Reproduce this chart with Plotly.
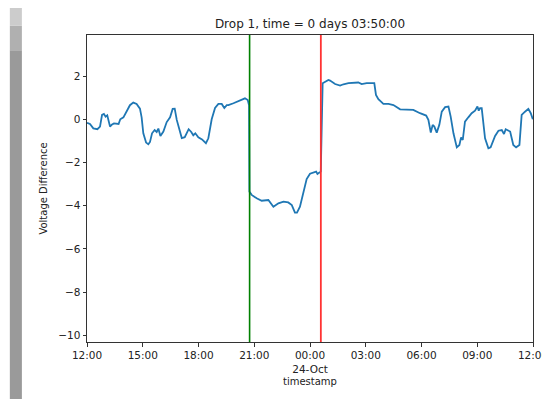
import pandas as pd
import plotly.graph_objects as go

# hours after 2023-10-23 12:00
hours = [0.0, 0.16, 0.34, 0.56, 0.70, 0.81, 0.91, 1.0, 1.09, 1.24, 1.33, 1.45, 1.70, 1.79, 1.96,
         2.13, 2.31, 2.49, 2.67, 2.85, 2.94, 3.03, 3.18, 3.30, 3.39, 3.50, 3.64, 3.75, 3.84, 3.95,
         4.11, 4.29, 4.47, 4.61, 4.72, 4.83, 4.93, 5.10, 5.26, 5.47, 5.61, 5.72, 5.83, 5.99, 6.19,
         6.40, 6.53, 6.71, 6.89, 7.07, 7.25, 7.39, 7.52, 7.61, 7.88, 8.23, 8.50, 8.65, 8.72, 8.74,
         8.86, 9.13, 9.40, 9.76, 10.03, 10.30, 10.57, 10.83, 11.02, 11.19, 11.30, 11.46, 11.64, 11.82,
         12.0, 12.18, 12.33, 12.40, 12.50, 12.58, 12.68, 12.81, 12.99, 13.08, 13.35, 13.62, 13.80,
         14.07, 14.60, 14.78, 15.05, 15.46, 15.55, 15.68, 15.95, 16.22, 16.49, 16.85, 17.29, 17.56,
         17.92, 18.25, 18.37, 18.50, 18.60, 18.69, 18.82, 18.96, 19.09, 19.27, 19.45, 19.57, 19.72,
         19.90, 20.04, 20.13, 20.22, 20.34, 20.52, 20.70, 20.88, 21.01, 21.08, 21.15, 21.24, 21.33,
         21.42, 21.60, 21.72, 21.96, 22.14, 22.32, 22.44, 22.53, 22.77, 22.94, 23.09, 23.27, 23.39,
         23.57, 23.75, 23.88, 23.99]
voltage = [-0.16, -0.22, -0.42, -0.46, -0.34, 0.20, 0.25, 0.12, 0.18, -0.34, -0.25, -0.19, -0.22, 0.0, 0.09,
           0.34, 0.65, 0.77, 0.71, 0.49, 0.09, -0.65, -1.08, -1.16, -1.05, -0.65, -0.50, -0.59, -0.43, -0.77,
           -0.57, -0.13, 0.09, 0.48, 0.49, -0.03, -0.37, -0.87, -0.83, -0.46, -0.59, -0.74, -0.65, -0.83, -0.93,
           -1.11, -0.88, 0.0, 0.52, 0.71, 0.71, 0.52, 0.65, 0.65, 0.74, 0.86, 0.97, 0.89, 0.65, -3.35,
           -3.50, -3.66, -3.77, -3.74, -4.05, -3.89, -3.81, -3.85, -3.97, -4.32, -4.32, -4.05, -3.45, -2.77,
           -2.52, -2.47, -2.42, -2.53, -2.47, -2.42, 1.67, 1.74, 1.82, 1.79, 1.63, 1.56, 1.62,
           1.67, 1.70, 1.63, 1.67, 1.67, 1.13, 0.93, 0.71, 0.71, 0.66, 0.46, 0.46, 0.43,
           0.28, 0.17, -0.03, -0.62, -0.26, -0.34, -0.62, -0.26, 0.35, 0.56, 0.59, 0.12, -0.65,
           -1.30, -1.19, -0.84, -0.96, -0.11, 0.09, 0.28, 0.40, 0.59, 0.40, 0.51, 0.51, -0.11,
           -0.88, -1.34, -1.30, -0.77, -0.53, -0.50, -0.68, -0.46, -0.57, -1.19, -1.30, -1.19, 0.20,
           0.35, 0.48, 0.28, 0.0]

start = "2023-10-23 12:00"
drop_start = "2023-10-23 20:45"
drop_end = "2023-10-24 00:35"
tick_times = pd.date_range(start, periods=9, freq="3h")
tick_text = ["12:00", "15:00", "18:00", "21:00", "00:00<br>24-Oct", "03:00", "06:00", "09:00", "12:00"]
y_ticks = [2, 0, -2, -4, -6, -8, -10]

ts = pd.Timestamp(start) + pd.to_timedelta(hours, unit="h")

fig = go.Figure()
fig.add_trace(go.Scatter(x=ts, y=voltage, mode="lines",
                         line=dict(color="#1f77b4", width=1.8)))
fig.add_trace(go.Scatter(x=[drop_start, drop_start], y=[-10.31, 3.9], mode="lines",
                         line=dict(color="green", width=1.6)))
fig.add_trace(go.Scatter(x=[drop_end, drop_end], y=[-10.31, 3.9], mode="lines",
                         line=dict(color="#ff3333", width=1.8)))

# grey strip on the left edge of the screenshot
fig.add_shape(type="rect", xref="paper", yref="paper", x0=-0.173, x1=-0.146, y0=-0.19, y1=0.95,
              fillcolor="#9a9a9a", line_width=0, layer="below")
fig.add_shape(type="rect", xref="paper", yref="paper", x0=-0.173, x1=-0.146, y0=0.95, y1=1.03,
              fillcolor="#b0b0b0", line_width=0, layer="below")
fig.add_shape(type="rect", xref="paper", yref="paper", x0=-0.173, x1=-0.146, y0=1.03, y1=1.1,
              fillcolor="#cccccc", line_width=0, layer="below")

axis_style = dict(showline=True, linecolor="#333333", linewidth=1, mirror=True,
                  ticks="outside", ticklen=3.5, tickcolor="#333333", showgrid=False,
                  zeroline=False, automargin=False, tickfont=dict(size=10.5, color="#222222"))

fig.update_xaxes(range=[tick_times[0], tick_times[-1]], tickvals=tick_times, ticktext=tick_text,
                 title=dict(text="timestamp", font=dict(size=10, color="#222222"), standoff=4),
                 **axis_style)
fig.update_yaxes(range=[-10.31, 3.9], tickvals=y_ticks,
                 ticktext=[str(v).replace("-", "\u2212") for v in y_ticks],
                 title=dict(text="Voltage Difference", font=dict(size=10, color="#222222"), standoff=8),
                 **axis_style)

# page body adds an 8px offset, so the figure is 542x391
fig.update_layout(
    width=542, height=391,
    margin=dict(l=79, r=17, t=27, b=57),
    paper_bgcolor="white", plot_bgcolor="white",
    font=dict(family="DejaVu Sans", color="#222222"),
    title=dict(text="Drop 1, time = 0 days 03:50:00", x=0.5, xref="paper", xanchor="center",
               y=1 - 16 / 391, yanchor="middle", font=dict(size=12, color="#222222")),
    showlegend=False,
)

fig.write_html("out.html")
